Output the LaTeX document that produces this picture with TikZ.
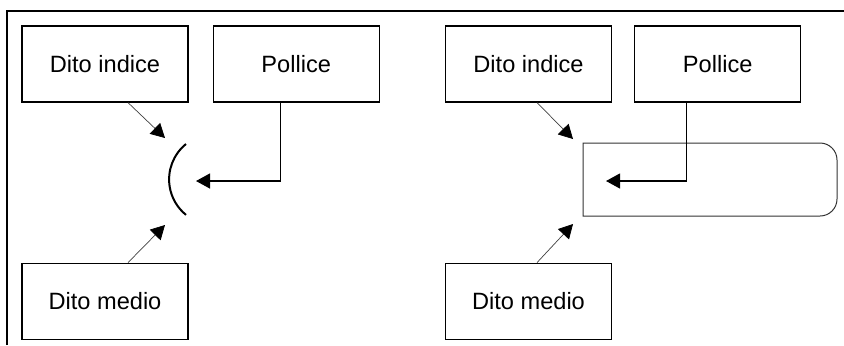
\documentclass[tikz,border=0pt]{standalone}
\usepackage{fontspec}
\setmainfont{Liberation Sans}
\usepackage{tikz}
\usetikzlibrary{arrows, arrows.meta, positioning}

\begin{document}
\begin{tikzpicture}[
    x=0.5pt, y=0.5pt,
    finger/.style={draw, line width=0.6pt, minimum width=83pt, minimum height=38pt, inner sep=0pt, font=\fontsize{11.8}{13}\selectfont},
    thin arrow/.style={-{Triangle[length=7pt, width=7.5pt, color=black]}, line width=0.35pt, black!75},
    thumb arrow/.style={-{Triangle[length=7pt, width=7.5pt]}, line width=0.6pt}
]
    \useasboundingbox (0,0) rectangle (844,-345);
    % frame
    \draw [line width=0.6pt] (7,-345) -- (7,-11) -- (844,-11);

    % left: bracket
    \node (indiceL) [finger] at (105,-64) {Dito indice};
    \node (polliceL) [finger, right=12pt of indiceL] {Pollice};
    \node (medioL) [finger, below=80pt of indiceL] {Dito medio};
    \coordinate (tipIL) at (165,-138);
    \coordinate (tipML) at (165,-225);
    \coordinate (tipPL) at (196,-181);
    \draw [line width=1pt] (186,-144) arc[start angle=129, end angle=231, radius=22.8pt];

    \draw [thin arrow] ([xshift=11.5pt]indiceL.south) -- (tipIL);
    \draw [thin arrow] ([xshift=11.5pt]medioL.north) -- (tipML);
    \draw [thumb arrow] ([xshift=-7.75pt]polliceL.south) |- (tipPL);

    % right: rounded box
    \node (indiceR) [finger] at (528.5,-64) {Dito indice};
    \node (polliceR) [finger, right=11pt of indiceR] {Pollice};
    \node (medioR) [finger, below=80pt of indiceR] {Dito medio};
    \coordinate (tipIR) at (573,-139);
    \coordinate (tipMR) at (573,-224);
    \coordinate (tipPR) at (606,-181);
    \draw [line width=0.5pt, black!80] (583,-143) -- (820,-143) arc[start angle=90, end angle=0, radius=8.5pt]
        -- (837,-199) arc[start angle=0, end angle=-90, radius=8.5pt] -- (583,-216) -- cycle;

    \draw [thin arrow] ([xshift=4.25pt]indiceR.south) -- (tipIR);
    \draw [thin arrow] ([xshift=4.25pt]medioR.north) -- (tipMR);
    \draw [thumb arrow] ([xshift=-15.75pt]polliceR.south) |- (tipPR);
\end{tikzpicture}
\end{document}
